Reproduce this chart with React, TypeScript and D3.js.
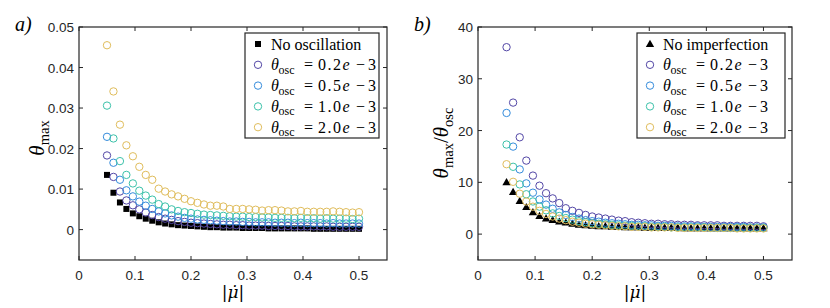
import * as d3 from "d3";

// |mu dot| sample points (40 runs)
const muDot = [
  0.05, 0.0615, 0.0731, 0.0846, 0.0962, 0.1077, 0.1192, 0.1308, 0.1423, 0.1538,
  0.1654, 0.1769, 0.1885, 0.2, 0.2115, 0.2231, 0.2346, 0.2462, 0.2577, 0.2692,
  0.2808, 0.2923, 0.3038, 0.3154, 0.3269, 0.3385, 0.35, 0.3615, 0.3731, 0.3846,
  0.3962, 0.4077, 0.4192, 0.4308, 0.4423, 0.4538, 0.4654, 0.4769, 0.4885, 0.5,
];

// panel a: theta_max
const noOscillation = [
  0.0135, 0.0091, 0.0067, 0.0051, 0.004, 0.0033, 0.0027, 0.0022, 0.0018, 0.0015,
  0.0013, 0.0011, 0.001, 0.0009, 0.0008, 0.0007, 0.0006, 0.0006, 0.0005, 0.0005,
  0.0005, 0.0004, 0.0004, 0.0004, 0.0004, 0.0003, 0.0003, 0.0003, 0.0003, 0.0003,
  0.0003, 0.0003, 0.0002, 0.0002, 0.0002, 0.0002, 0.0002, 0.0002, 0.0002, 0.0002,
];
const thetaOsc02 = [
  0.0183, 0.013, 0.0094, 0.0072, 0.006, 0.005, 0.0042, 0.0036, 0.0031, 0.0027,
  0.0024, 0.0021, 0.0019, 0.0017, 0.0016, 0.0015, 0.0014, 0.0013, 0.0012, 0.0012,
  0.0011, 0.0011, 0.001, 0.001, 0.001, 0.0009, 0.0009, 0.0009, 0.0009, 0.0008,
  0.0008, 0.0008, 0.0008, 0.0008, 0.0008, 0.0007, 0.0007, 0.0007, 0.0007, 0.0007,
];
const thetaOsc05 = [
  0.0229, 0.0165, 0.0123, 0.0097, 0.0082, 0.0069, 0.0059, 0.0051, 0.0045, 0.004,
  0.0035, 0.0032, 0.0029, 0.0027, 0.0025, 0.0024, 0.0023, 0.0022, 0.0021, 0.002,
  0.002, 0.0019, 0.0019, 0.0018, 0.0018, 0.0018, 0.0017, 0.0017, 0.0017, 0.0016,
  0.0017, 0.0016, 0.0016, 0.0016, 0.0015, 0.0016, 0.0015, 0.0015, 0.0015, 0.0015,
];
const thetaOsc10 = [
  0.0306, 0.0225, 0.0169, 0.0135, 0.0114, 0.0096, 0.0084, 0.0074, 0.0063, 0.0057,
  0.005, 0.0046, 0.0043, 0.0041, 0.0039, 0.0037, 0.0036, 0.0035, 0.0034, 0.0033,
  0.0032, 0.0032, 0.0031, 0.0031, 0.003, 0.003, 0.0029, 0.0029, 0.0029, 0.0028,
  0.0029, 0.0028, 0.0028, 0.0027, 0.0028, 0.0027, 0.0027, 0.0027, 0.0026, 0.0027,
];
const thetaOsc20 = [
  0.0455, 0.0341, 0.0259, 0.0208, 0.0181, 0.0155, 0.0135, 0.0123, 0.0101, 0.0094,
  0.0087, 0.0082, 0.0076, 0.007, 0.0066, 0.0062, 0.0059, 0.0059, 0.0057, 0.0051,
  0.0051, 0.0051, 0.005, 0.0049, 0.0047, 0.0048, 0.0048, 0.0047, 0.0045, 0.0045,
  0.0046, 0.0044, 0.0044, 0.0044, 0.0044, 0.0045, 0.0044, 0.0043, 0.0042, 0.0043,
];

// panel b: theta_max / theta_osc
const noImperfection = [
  10.0, 8.1, 6.4, 5.2, 4.2, 3.5, 3.0, 2.7, 2.4, 2.2,
  2.0, 1.8, 1.7, 1.6, 1.5, 1.5, 1.4, 1.4, 1.3, 1.3,
  1.3, 1.2, 1.2, 1.2, 1.2, 1.2, 1.2, 1.1, 1.1, 1.1,
  1.1, 1.1, 1.1, 1.1, 1.1, 1.1, 1.1, 1.1, 1.1, 1.1,
];
const ratioOsc02 = [
  36.1, 25.4, 18.7, 14.2, 11.3, 9.35, 7.9, 6.9, 6.0, 5.0,
  4.5, 4.1, 3.7, 3.4, 3.2, 3.0, 2.8, 2.6, 2.5, 2.3,
  2.2, 2.1, 2.0, 2.0, 1.9, 1.9, 1.8, 1.8, 1.8, 1.7,
  1.7, 1.7, 1.7, 1.6, 1.6, 1.6, 1.6, 1.6, 1.6, 1.5,
];
const ratioOsc05 = [
  23.4, 16.9, 12.5, 9.8, 8.0, 6.7, 5.7, 4.9, 4.2, 3.7,
  3.3, 3.0, 2.7, 2.5, 2.4, 2.2, 2.1, 2.0, 1.9, 1.8,
  1.8, 1.7, 1.7, 1.6, 1.6, 1.6, 1.5, 1.5, 1.5, 1.5,
  1.4, 1.4, 1.4, 1.4, 1.4, 1.4, 1.4, 1.3, 1.3, 1.3,
];
const ratioOsc10 = [
  17.3, 13.0, 9.6, 7.7, 6.3, 5.3, 4.6, 4.0, 3.5, 3.1,
  2.8, 2.5, 2.3, 2.1, 2.0, 1.9, 1.8, 1.7, 1.6, 1.6,
  1.5, 1.5, 1.4, 1.4, 1.4, 1.3, 1.3, 1.3, 1.3, 1.3,
  1.3, 1.2, 1.2, 1.2, 1.2, 1.2, 1.2, 1.2, 1.2, 1.2,
];
const ratioOsc20 = [
  13.5, 10.1, 7.8, 6.3, 5.3, 4.5, 3.9, 3.4, 3.0, 2.7,
  2.4, 2.2, 2.0, 1.9, 1.8, 1.7, 1.6, 1.5, 1.5, 1.4,
  1.4, 1.4, 1.3, 1.3, 1.3, 1.3, 1.2, 1.2, 1.2, 1.2,
  1.2, 1.2, 1.2, 1.2, 1.2, 1.1, 1.1, 1.1, 1.1, 1.1,
];

const oscLabels = ["0.2", "0.5", "1.0", "2.0"];
const oscColors = ["#5347a6", "#358cdc", "#3cc2aa", "#e0bd5c"];
const xTicks = [0, 0.1, 0.2, 0.3, 0.4, 0.5];
const yTicksA = [0, 0.01, 0.02, 0.03, 0.04, 0.05];
const yTicksB = [0, 10, 20, 30, 40];

const AX = "#262626";
const SANS = "'Liberation Sans', Arial, Helvetica, sans-serif";
const SERIF = "'Liberation Serif', 'DejaVu Serif', 'Times New Roman', serif";

type PanelProps = {
  left: number;
  right: number;
  top: number;
  bottom: number;
  yDomain: [number, number];
  yTicks: number[];
  yFmt: (v: number) => string;
  base: number[];
  baseShape: "square" | "triangle";
  baseLabel: string;
  osc: number[][];
  legendLeft: number;
  legendRight: number;
  tag: string;
  yLabel: React.ReactNode;
  yLabelX: number;
  yLabelY: number;
};

const Panel = (p: PanelProps) => {
  const x = d3.scaleLinear().domain([0, 0.55]).range([p.left, p.right]);
  const y = d3.scaleLinear().domain(p.yDomain).range([p.bottom, p.top]);
  const tl = 4;
  const tri = d3.symbol(d3.symbolTriangle, 30)();

  const legTop = 33;
  const rowH = 20.8;
  const legRows = [p.baseLabel, ...oscLabels];

  return (
    <g>
      {/* points: reference series first, then the oscillation runs */}
      {p.base.map((v, i) =>
        p.baseShape === "square" ? (
          <rect
            key={"b" + i}
            x={x(muDot[i]) - 3}
            y={y(v) - 3}
            width={6}
            height={6}
            fill="#000"
          />
        ) : (
          <path
            key={"b" + i}
            d={tri!}
            transform={`translate(${x(muDot[i])},${y(v) + 0.5})`}
            fill="#000"
          />
        )
      )}
      {p.osc.map((s, k) =>
        s.map((v, i) => (
          <circle
            key={k + "-" + i}
            cx={x(muDot[i])}
            cy={y(v)}
            r={3.7}
            fill="none"
            stroke={oscColors[k]}
            strokeWidth={1}
          />
        ))
      )}

      {/* axes box */}
      <rect
        x={p.left}
        y={p.top}
        width={p.right - p.left}
        height={p.bottom - p.top}
        fill="none"
        stroke={AX}
        strokeWidth={1.2}
      />
      {xTicks.map((t) => (
        <g key={"xt" + t}>
          <line x1={x(t)} x2={x(t)} y1={p.bottom} y2={p.bottom - tl} stroke={AX} />
          <line x1={x(t)} x2={x(t)} y1={p.top} y2={p.top + tl} stroke={AX} />
          <text
            x={x(t)}
            y={p.bottom + 20}
            textAnchor="middle"
            fontFamily={SANS}
            fontSize={13.5}
            fill={AX}
          >
            {t === 0 ? "0" : t.toFixed(1)}
          </text>
        </g>
      ))}
      {p.yTicks.map((t) => (
        <g key={"yt" + t}>
          <line x1={p.left} x2={p.left + tl} y1={y(t)} y2={y(t)} stroke={AX} />
          <line x1={p.right} x2={p.right - tl} y1={y(t)} y2={y(t)} stroke={AX} />
          <text
            x={p.left - 5}
            y={y(t) + 5}
            textAnchor="end"
            fontFamily={SANS}
            fontSize={13.5}
            fill={AX}
          >
            {p.yFmt(t)}
          </text>
        </g>
      ))}

      {/* legend */}
      <rect
        x={p.legendLeft}
        y={legTop}
        width={p.legendRight - p.legendLeft}
        height={105}
        fill="#fff"
        stroke={AX}
        strokeWidth={1.2}
      />
      {legRows.map((lab, r) => {
        const cy = legTop + 11 + r * rowH;
        const mx = p.legendLeft + 13;
        const tx = p.legendLeft + 26;
        return (
          <g key={"leg" + r}>
            {r === 0 ? (
              p.baseShape === "square" ? (
                <rect x={mx - 3} y={cy - 3} width={6} height={6} fill="#000" />
              ) : (
                <path d={tri!} transform={`translate(${mx},${cy + 0.5})`} fill="#000" />
              )
            ) : (
              <circle cx={mx} cy={cy} r={3.7} fill="none" stroke={oscColors[r - 1]} />
            )}
            {r === 0 ? (
              <text x={tx} y={cy + 5.5} fontFamily={SERIF} fontSize={16} fill="#000">
                {lab}
              </text>
            ) : (
              <text y={cy + 5.5} fontFamily={SERIF} fontSize={16} fill="#000">
                <tspan x={tx} fontStyle="italic">
                  θ
                </tspan>
                <tspan x={tx + 7.5} fontSize={12} dy={3.5}>
                  osc
                </tspan>
                <tspan x={tx + 33} dy={-3.5}>
                  =
                </tspan>
                <tspan x={tx + 47} letterSpacing={1.5}>
                  {lab}
                </tspan>
                <tspan fontStyle="italic">e</tspan>
                <tspan x={tx + 85}>−</tspan>
                <tspan x={tx + 97}>3</tspan>
              </text>
            )}
          </g>
        );
      })}

      {/* labels */}
      <text
        x={p.left - 64}
        y={31}
        fontFamily={SERIF}
        fontStyle="italic"
        fontSize={20}
        fill="#000"
      >
        {p.tag}
      </text>
      <text
        transform={`translate(${p.yLabelX},${p.yLabelY}) rotate(-90)`}
        textAnchor="middle"
        fontFamily={SERIF}
        fontSize={21}
        fill="#000"
      >
        {p.yLabel}
      </text>
      <text
        x={(p.left + p.right) / 2}
        y={298}
        textAnchor="middle"
        fontFamily="'DejaVu Serif', serif"
        fontSize={17}
        fill="#000"
      >
        |<tspan fontStyle="italic">μ̇</tspan>|
      </text>
    </g>
  );
};

export default function App() {
  return (
    <svg
      width={830}
      height={308}
      style={{ position: "absolute", left: 0, top: 0, background: "#fff" }}
    >
      <rect width={830} height={308} fill="#fff" />
      <Panel
        left={79}
        right={387}
        top={27}
        bottom={260}
        yDomain={[-0.0075, 0.05]}
        yTicks={yTicksA}
        yFmt={(v) => (v === 0 ? "0" : v.toFixed(2))}
        base={noOscillation}
        baseShape="square"
        baseLabel="No oscillation"
        osc={[thetaOsc02, thetaOsc05, thetaOsc10, thetaOsc20]}
        legendLeft={245}
        legendRight={379}
        tag="a)"
        yLabelX={44}
        yLabelY={138}
        yLabel={
          <>
            <tspan fontStyle="italic">θ</tspan>
            <tspan fontSize={14.5} dy={4.5}>
              max
            </tspan>
          </>
        }
      />
      <Panel
        left={478}
        right={792}
        top={27}
        bottom={260}
        yDomain={[-5, 40]}
        yTicks={yTicksB}
        yFmt={(v) => String(v)}
        base={noImperfection}
        baseShape="triangle"
        baseLabel="No imperfection"
        osc={[ratioOsc02, ratioOsc05, ratioOsc10, ratioOsc20]}
        legendLeft={637}
        legendRight={785}
        tag="b)"
        yLabelX={448}
        yLabelY={143}
        yLabel={
          <>
            <tspan fontStyle="italic">θ</tspan>
            <tspan fontSize={14.5} dy={4.5}>
              max
            </tspan>
            <tspan dy={-4.5}>/</tspan>
            <tspan fontStyle="italic">θ</tspan>
            <tspan fontSize={14.5} dy={4.5}>
              osc
            </tspan>
          </>
        }
      />
    </svg>
  );
}
